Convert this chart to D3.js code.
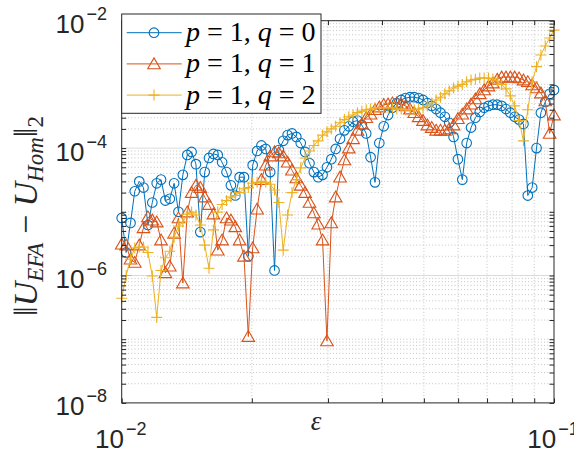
<!DOCTYPE html>
<html>
<head>
<meta charset="utf-8">
<script src="https://cdn.jsdelivr.net/npm/d3@7"></script>
<style>
  body { margin: 0; background: #fff; }
  svg { display: block; }
</style>
</head>
<body>
<svg id="chart"></svg>
<script>
// sample points (epsilon)
const eps = [
  0.01000, 0.01024, 0.01048, 0.01072, 0.01098, 0.01123, 0.01150, 0.01177, 0.01205, 0.01233,
  0.01262, 0.01292, 0.01322, 0.01353, 0.01385, 0.01418, 0.01451, 0.01485, 0.01520, 0.01556,
  0.01592, 0.01630, 0.01668, 0.01707, 0.01748, 0.01789, 0.01831, 0.01874, 0.01918, 0.01963,
  0.02009, 0.02057, 0.02105, 0.02154, 0.02205, 0.02257, 0.02310, 0.02364, 0.02420, 0.02477,
  0.02535, 0.02595, 0.02656, 0.02719, 0.02783, 0.02848, 0.02915, 0.02984, 0.03054, 0.03126,
  0.03199, 0.03275, 0.03352, 0.03430, 0.03511, 0.03594, 0.03678, 0.03765, 0.03854, 0.03944,
  0.04037, 0.04132, 0.04229, 0.04329, 0.04431, 0.04535, 0.04642, 0.04751, 0.04863, 0.04977,
  0.05094, 0.05214, 0.05337, 0.05462, 0.05591, 0.05722, 0.05857, 0.05995, 0.06136, 0.06280,
  0.06428, 0.06579, 0.06734, 0.06893, 0.07055, 0.07221, 0.07391, 0.07565, 0.07743, 0.07925,
  0.08111, 0.08302, 0.08498, 0.08697, 0.08902, 0.09112, 0.09326, 0.09545, 0.09770, 0.10000
];

// error for p = 1, q = 0
const errQ0 = [
  8.0e-6, 2.3e-6, 6.7e-6, 2.1e-5, 3.0e-5, 2.4e-5, 6.2e-6, 1.4e-5, 2.8e-5, 3.2e-5,
  1.5e-5, 1.6e-5, 2.8e-5, 1.0e-5, 3.8e-5, 7.8e-5, 8.7e-5, 5.6e-5, 4.8e-6, 4.2e-5,
  7.0e-5, 8.1e-5, 7.8e-5, 6.0e-5, 4.2e-5, 2.6e-5, 1.8e-5, 3.5e-5, 3.5e-5, 2.0e-6,
  5.4e-5, 9.0e-5, 1.1e-4, 9.7e-5, 4.2e-5, 1.2e-6, 9.3e-5, 1.3e-4, 1.6e-4, 1.7e-4,
  1.5e-4, 1.2e-4, 8.7e-5, 5.8e-5, 4.2e-5, 3.5e-5, 3.8e-5, 5.0e-5, 6.7e-5, 9.7e-5,
  1.4e-4, 1.9e-4, 2.2e-4, 2.6e-4, 2.7e-4, 2.3e-4, 1.7e-4, 7.2e-5, 2.9e-5, 1.2e-4,
  2.2e-4, 3.3e-4, 4.3e-4, 5.1e-4, 5.7e-4, 6.1e-4, 6.3e-4, 6.3e-4, 6.1e-4, 5.7e-4,
  5.1e-4, 4.6e-4, 4.1e-4, 3.6e-4, 3.1e-4, 2.5e-4, 1.5e-4, 6.7e-5, 3.2e-5, 1.2e-4,
  2.1e-4, 3.0e-4, 3.7e-4, 4.3e-4, 4.6e-4, 4.8e-4, 4.8e-4, 4.6e-4, 4.1e-4, 3.6e-4,
  3.1e-4, 2.8e-4, 2.4e-4, 1.8e-5, 2.4e-5, 1.0e-4, 3.6e-4, 5.3e-4, 7.1e-4, 8.2e-4
];

// error for p = 1, q = 1
const errQ1 = [
  3.1e-6, 3.0e-6, 1.8e-6, 1.6e-6, 3.0e-6, 5.6e-6, 8.3e-6, 7.4e-6, 6.9e-6, 3.6e-6,
  1.1e-6, 1.4e-6, 4.6e-6, 8.0e-6, 7.6e-7, 9.9e-6, 2.0e-5, 2.6e-5, 2.4e-5, 1.7e-5,
  1.3e-5, 9.2e-6, 2.5e-6, 3.6e-6, 8.0e-6, 7.4e-6, 5.8e-6, 3.6e-6, 2.0e-6, 1.1e-7,
  2.7e-6, 1.1e-5, 3.2e-5, 5.4e-5, 7.5e-5, 8.7e-5, 8.4e-5, 7.5e-5, 6.0e-5, 4.5e-5,
  3.4e-5, 2.6e-5, 2.0e-5, 1.4e-5, 9.6e-6, 6.4e-6, 3.6e-6, 9.4e-8, 6.7e-6, 1.7e-5,
  3.5e-5, 6.5e-5, 1.0e-4, 1.4e-4, 1.9e-4, 2.4e-4, 3.0e-4, 3.4e-4, 4.0e-4, 4.4e-4,
  4.8e-4, 4.9e-4, 5.1e-4, 5.1e-4, 4.9e-4, 4.6e-4, 4.1e-4, 3.6e-4, 3.1e-4, 2.7e-4,
  2.3e-4, 2.1e-4, 1.9e-4, 1.9e-4, 1.9e-4, 2.0e-4, 2.3e-4, 2.9e-4, 3.4e-4, 4.1e-4,
  4.9e-4, 5.9e-4, 7.1e-4, 8.2e-4, 9.4e-4, 1.05e-3, 1.2e-3, 1.3e-3, 1.3e-3, 1.3e-3,
  1.3e-3, 1.26e-3, 1.17e-3, 1.1e-3, 9.8e-4, 8.8e-4, 7.3e-4, 5.5e-4, 1.7e-4, 3.3e-4
];

// error for p = 1, q = 2
const errQ2 = [
  4.4e-7, 1.0e-6, 1.8e-6, 2.7e-6, 2.8e-6, 2.8e-6, 2.3e-6, 9.8e-7, 2.2e-7, 1.2e-6,
  1.9e-6, 2.4e-6, 4.0e-6, 6.0e-6, 6.9e-6, 9.2e-6, 9.9e-6, 8.9e-6, 6.2e-6, 3.0e-6,
  1.3e-6, 5.2e-6, 9.9e-6, 1.3e-5, 1.5e-5, 1.7e-5, 1.8e-5, 2.0e-5, 2.3e-5, 2.4e-5,
  2.8e-5, 2.9e-5, 3.0e-5, 2.9e-5, 2.7e-5, 2.2e-5, 1.4e-5, 2.5e-6, 8.9e-6, 2.0e-5,
  3.2e-5, 4.9e-5, 7.0e-5, 9.0e-5, 1.1e-4, 1.3e-4, 1.6e-4, 1.8e-4, 2.0e-4, 2.2e-4,
  2.5e-4, 2.8e-4, 3.1e-4, 3.3e-4, 3.6e-4, 3.8e-4, 4.0e-4, 4.1e-4, 4.3e-4, 4.3e-4,
  4.3e-4, 4.3e-4, 4.3e-4, 4.1e-4, 4.1e-4, 4.0e-4, 4.0e-4, 4.0e-4, 4.1e-4, 4.3e-4,
  4.6e-4, 5.1e-4, 5.7e-4, 6.3e-4, 7.1e-4, 7.9e-4, 8.8e-4, 9.4e-4, 1.0e-3, 1.1e-3,
  1.17e-3, 1.2e-3, 1.26e-3, 1.26e-3, 1.26e-3, 1.22e-3, 1.13e-3, 1.0e-3, 8.5e-4, 6.6e-4,
  4.6e-4, 2.7e-4, 1.3e-4, 4.0e-4, 1.1e-3, 1.9e-3, 2.9e-3, 4.0e-3, 5.35e-3, 7.1e-3
];

const qValues = [0, 1, 2];
const colors = ['#0072BD', '#D95319', '#EDB120'];
const markers = ['circle', 'triangle', 'plus'];

// axis ticks
const xTickExp = [-2, -1];
const yTickExp = [-8, -6, -4, -2];

// canvas
const width = 574;
const height = 455;
const plot = {left: 121.7, right: 554, top: 20.7, bottom: 402.9};
const sansFont = "'Liberation Sans', Arial, Helvetica, sans-serif";
const serifFont = "'Liberation Serif', 'DejaVu Serif', 'Times New Roman', serif";

let svg = d3.select('#chart')
    .attr('width', width)
    .attr('height', height);

let x = d3.scaleLog().domain([0.01, 0.1]).range([plot.left, plot.right]);
let y = d3.scaleLog().domain([1e-8, 1e-2]).range([plot.bottom, plot.top]);

// minor positions: every 1..9 x decade that is not a labelled tick
let xMinor = d3.range(2, 10).map(k => k * 0.01);
let yMinor = [];
for (let e = -8; e < -2; e++) {
    for (let k = 1; k < 10; k++) {
        if (k === 1 && yTickExp.includes(e)) continue;
        yMinor.push(k * Math.pow(10, e));
    }
}
let yMajor = yTickExp.map(e => Math.pow(10, e));
let xMajor = xTickExp.map(e => Math.pow(10, e));

// grid
let grid = svg.append('g');
grid.selectAll('.gx').data(xMinor).enter().append('line')
    .attr('x1', d => x(d)).attr('x2', d => x(d))
    .attr('y1', plot.top).attr('y2', plot.bottom)
    .attr('stroke', '#c4c4c4').attr('stroke-dasharray', '1,2.2');
grid.selectAll('.gy').data(yMinor).enter().append('line')
    .attr('x1', plot.left).attr('x2', plot.right)
    .attr('y1', d => y(d)).attr('y2', d => y(d))
    .attr('stroke', '#c4c4c4').attr('stroke-dasharray', '1,2.2');
grid.selectAll('.gY').data(yMajor.slice(1, -1)).enter().append('line')
    .attr('x1', plot.left).attr('x2', plot.right)
    .attr('y1', d => y(d)).attr('y2', d => y(d))
    .attr('stroke', '#dcdcdc');

// series
let series = [errQ0, errQ1, errQ2];
let line = d3.line().x(d => x(d[0])).y(d => y(d[1]));
let symbolPath = {
    circle: d3.symbol().type(d3.symbolCircle).size(Math.PI * 4.8 * 4.8)(),
    triangle: 'M0,-6L6.3,4.8L-6.3,4.8Z',
    plus: 'M-5.5,0H5.5M0,-5.5V5.5'
};

series.forEach((vals, i) => {
    let pts = eps.map((e, j) => [e, vals[j]]);
    svg.append('path')
        .datum(pts)
        .attr('d', line)
        .attr('fill', 'none')
        .attr('stroke', colors[i])
        .attr('stroke-width', 1);
    svg.append('g')
        .selectAll('path')
        .data(pts)
        .enter()
        .append('path')
        .attr('transform', d => 'translate(' + x(d[0]) + ',' + y(d[1]) + ')')
        .attr('d', symbolPath[markers[i]])
        .attr('fill', 'none')
        .attr('stroke', colors[i])
        .attr('stroke-width', 1.1);
});

// axes (inward ticks on all four sides)
let axisColor = '#262626';
let xTicks = xMajor.concat(xMinor);
let yTicks = yMajor.concat(yMinor);
function styleAxis(g) {
    g.select('.domain').remove();
    g.selectAll('line').attr('stroke', axisColor);
}
svg.append('g').attr('transform', 'translate(0,' + plot.bottom + ')')
    .call(d3.axisBottom(x).tickValues(xTicks).tickSize(-4.5).tickFormat('')).call(styleAxis);
svg.append('g').attr('transform', 'translate(0,' + plot.top + ')')
    .call(d3.axisTop(x).tickValues(xTicks).tickSize(-4.5).tickFormat('')).call(styleAxis);
svg.append('g').attr('transform', 'translate(' + plot.left + ',0)')
    .call(d3.axisLeft(y).tickValues(yTicks).tickSize(-4.5).tickFormat('')).call(styleAxis);
svg.append('g').attr('transform', 'translate(' + plot.right + ',0)')
    .call(d3.axisRight(y).tickValues(yTicks).tickSize(-4.5).tickFormat('')).call(styleAxis);

svg.append('rect')
    .attr('x', plot.left).attr('y', plot.top)
    .attr('width', plot.right - plot.left).attr('height', plot.bottom - plot.top)
    .attr('fill', 'none').attr('stroke', axisColor).attr('stroke-width', 1);

// tick labels 10^k
function powerLabel(px, py, exp, anchor) {
    let t = svg.append('text')
        .attr('x', px).attr('y', py)
        .attr('text-anchor', anchor)
        .attr('font-family', sansFont)
        .attr('font-size', 26)
        .attr('fill', axisColor);
    t.append('tspan').text('10');
    t.append('tspan').attr('font-size', 18).attr('dy', -13).attr('dx', 2)
        .text(String(exp).replace('-', '\u2212'));
}
xTickExp.forEach(e => powerLabel(x(Math.pow(10, e)) - 1, 448, e, 'middle'));
yTickExp.forEach(e => powerLabel(107, y(Math.pow(10, e)) + 12.5, e, 'end'));

// axis titles
svg.append('text')
    .attr('x', 316).attr('y', 430)
    .attr('text-anchor', 'middle')
    .attr('font-family', serifFont)
    .attr('font-style', 'italic')
    .attr('font-size', 27)
    .attr('fill', axisColor)
    .text('ε');

let ylab = svg.append('text')
    .attr('transform', 'translate(37,216) rotate(-90)')
    .attr('text-anchor', 'middle')
    .attr('font-family', serifFont)
    .attr('font-size', 34)
    .attr('fill', axisColor);
ylab.append('tspan').text('‖');
ylab.append('tspan').attr('font-style', 'italic').text('U');
ylab.append('tspan').attr('font-style', 'italic').attr('font-size', 23).attr('dy', 6).text('EFA');
ylab.append('tspan').attr('dy', -6).text(' − ');
ylab.append('tspan').attr('font-style', 'italic').text('U');
ylab.append('tspan').attr('font-style', 'italic').attr('font-size', 23).attr('dy', 6).text('Hom');
ylab.append('tspan').attr('dy', -6).text('‖');
ylab.append('tspan').attr('font-size', 23).attr('dy', 6).text('2');

// legend
let legend = svg.append('g');
legend.append('rect')
    .attr('x', plot.left).attr('y', 14)
    .attr('width', 199.3).attr('height', 99.3)
    .attr('fill', '#fff').attr('stroke', axisColor).attr('stroke-width', 1);

qValues.forEach((q, i) => {
    let ry = 32.7 + i * 31.2;
    legend.append('line')
        .attr('x1', 126.7).attr('x2', 181.7).attr('y1', ry).attr('y2', ry)
        .attr('stroke', colors[i]).attr('stroke-width', 1);
    legend.append('path')
        .attr('transform', 'translate(154,' + ry + ')')
        .attr('d', symbolPath[markers[i]])
        .attr('fill', 'none').attr('stroke', colors[i]).attr('stroke-width', 1.1);
    let t = legend.append('text')
        .attr('x', 186).attr('y', ry + 8.5)
        .attr('font-family', serifFont)
        .attr('font-size', 28)
        .attr('fill', '#000');
    t.append('tspan').attr('font-style', 'italic').text('p');
    t.append('tspan').text(' = 1, ');
    t.append('tspan').attr('font-style', 'italic').text('q');
    t.append('tspan').text(' = ' + q);
});
</script>
</body>
</html>
